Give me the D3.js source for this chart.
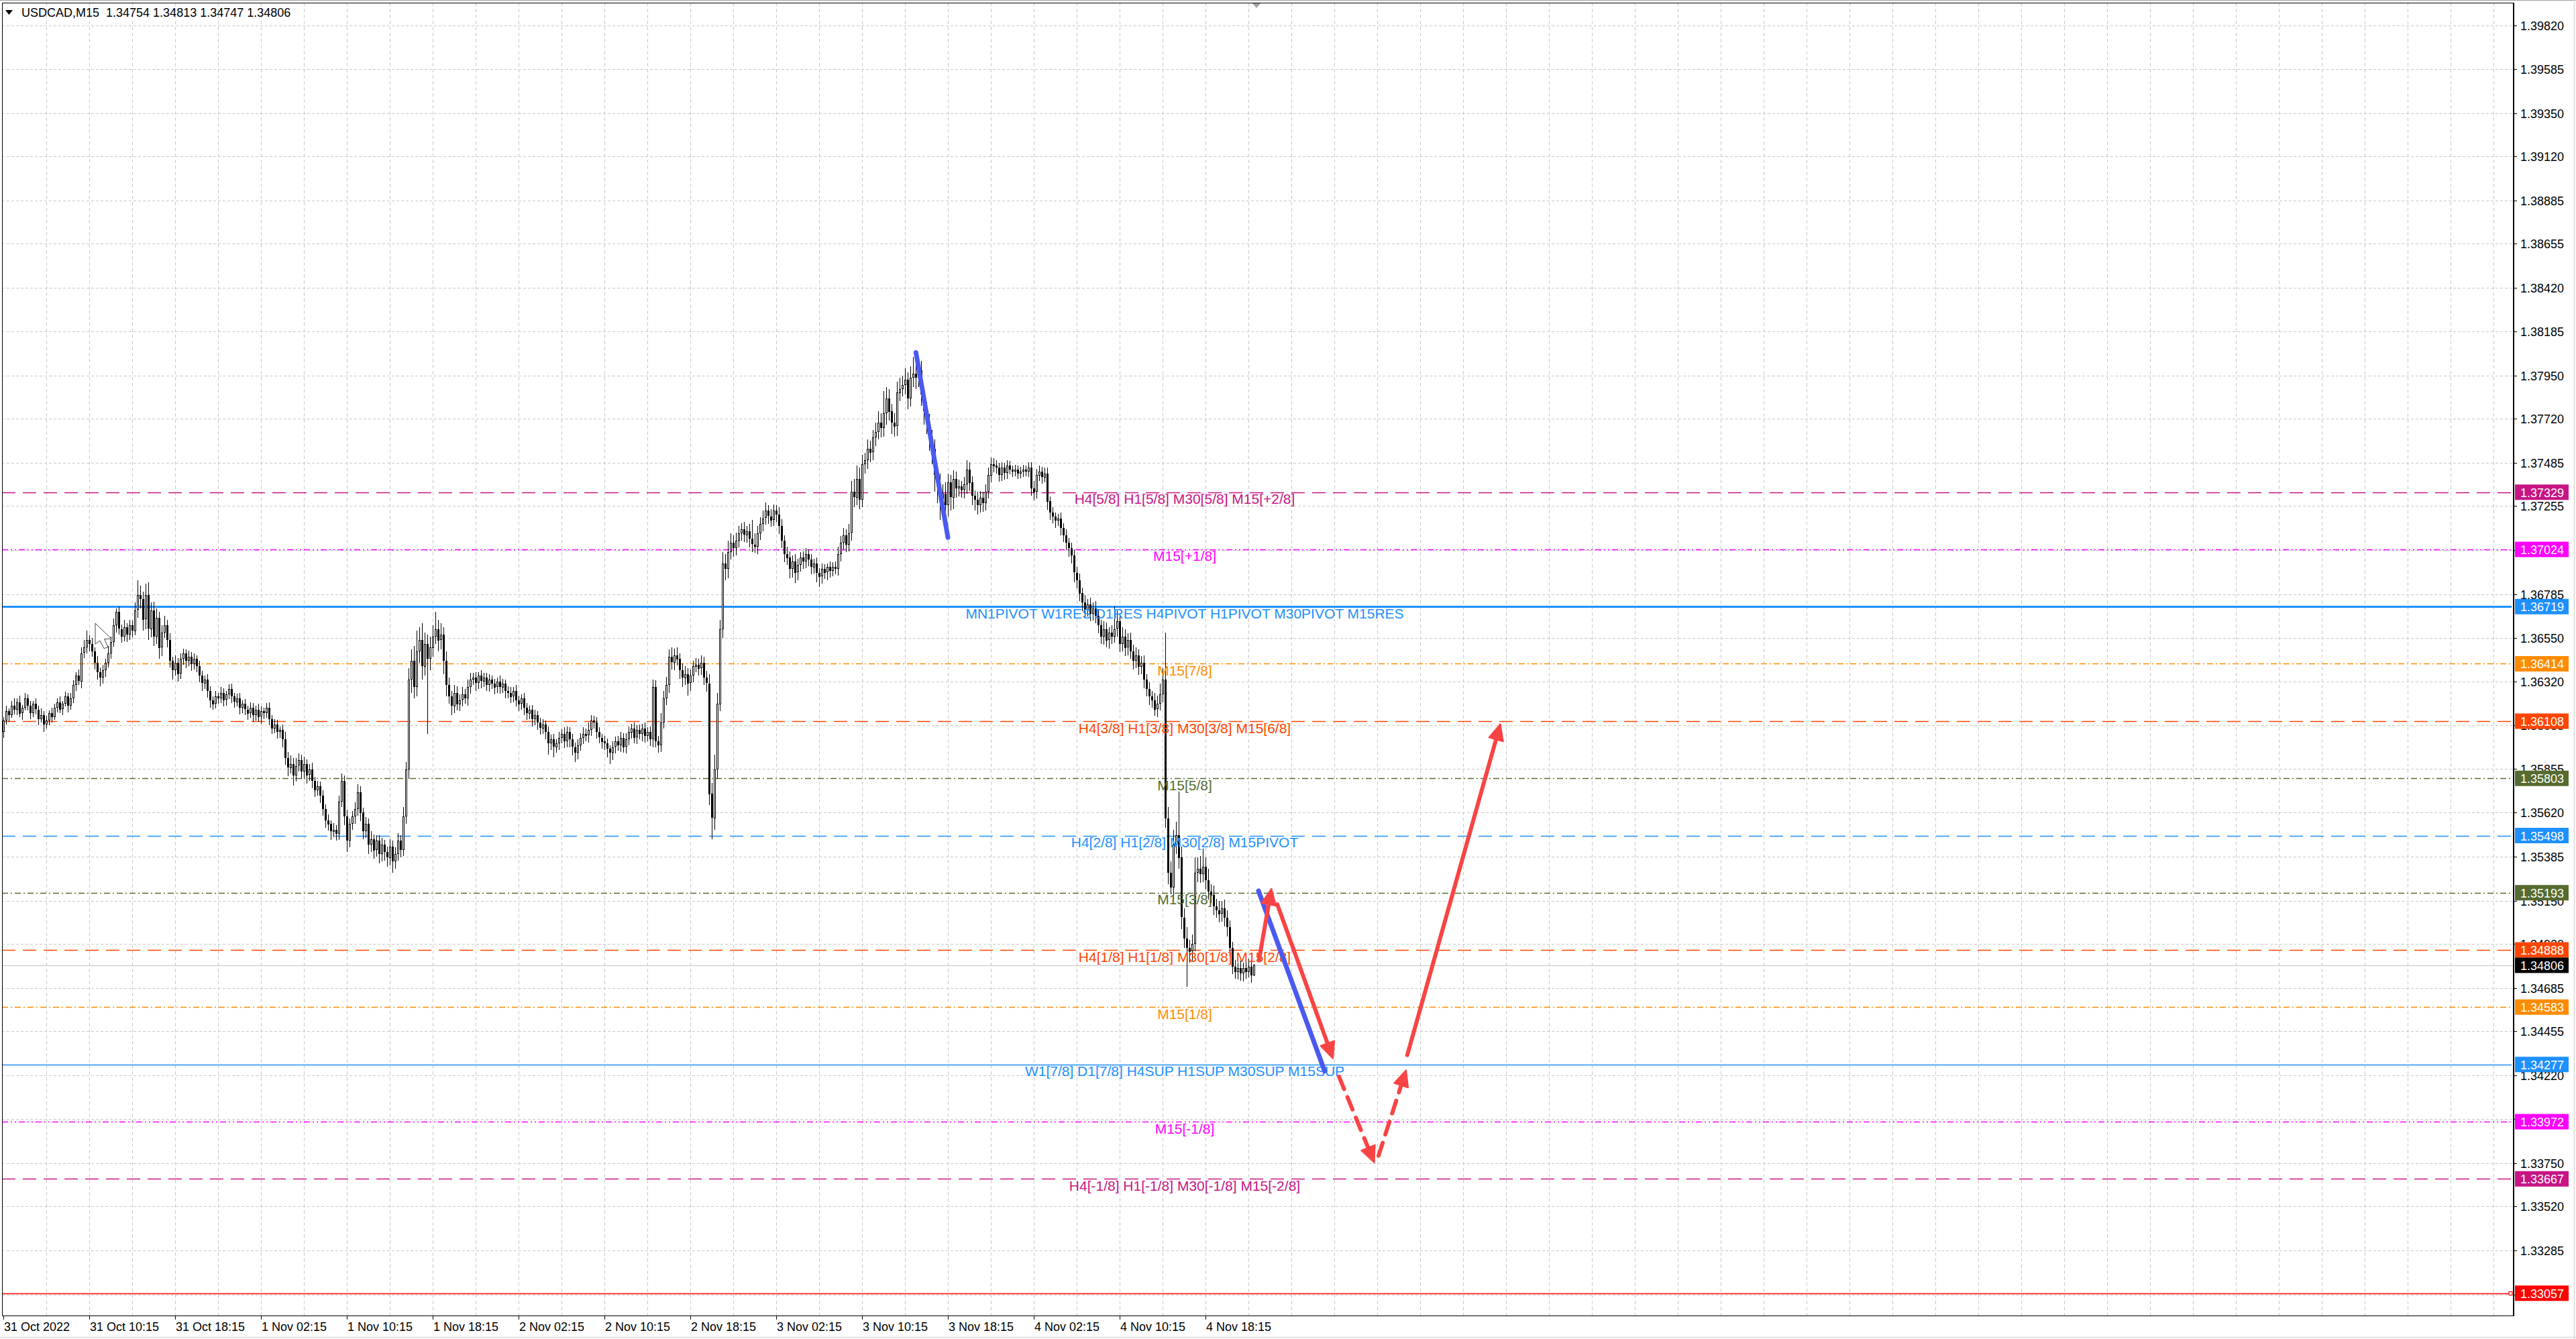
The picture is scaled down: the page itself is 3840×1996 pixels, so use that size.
<!DOCTYPE html>
<html><head><meta charset="utf-8">
<script src="https://cdn.jsdelivr.net/npm/d3@7"></script>
<style>body{margin:0;background:#fff}svg{display:block}</style>
</head><body><svg id="c" width="3840" height="1996"></svg>
<script>
// ---------------- DATA ----------------
const headerText = "USDCAD,M15  1.34754 1.34813 1.34747 1.34806";
// prices in points: price = 1 + v/100000
const firstOpen = 36050;
const closes = [
36110,36160,36140,36190,36170,36210,36150,36180,36230,36190,
36150,36200,36170,36120,36140,36090,36110,36150,36130,36180,
36210,36170,36200,36240,36190,36230,36300,36350,36320,36470,
36500,36540,36520,36480,36420,36370,36340,36380,36420,36470,
36530,36620,36690,36600,36560,36610,36570,36620,36590,36700,
36780,36760,36650,36780,36600,36700,36560,36660,36500,36580,
36620,36540,36430,36380,36420,36360,36440,36470,36430,36450,
36410,36440,36400,36350,36310,36330,36270,36220,36200,36240,
36230,36260,36220,36250,36280,36240,36210,36230,36180,36200,
36170,36150,36180,36140,36170,36130,36160,36150,36180,36120,
36070,36090,36050,36060,36010,35910,35860,35880,35820,35870,
35900,35840,35880,35820,35850,35790,35740,35760,35710,35640,
35580,35560,35520,35530,35510,35680,35790,35600,35470,35560,
35600,35640,35730,35620,35520,35560,35450,35480,35420,35470,
35400,35450,35410,35380,35440,35360,35400,35470,35420,35600,
35850,36330,36430,36290,36480,36540,36400,36520,36440,36500,
36560,36600,36540,36570,36430,36300,36240,36190,36260,36200,
36220,36250,36230,36290,36330,36340,36310,36350,36320,36340,
36300,36330,36310,36290,36320,36290,36310,36270,36260,36240,
36270,36220,36200,36230,36180,36150,36170,36120,36140,36100,
36070,36090,36050,35990,36010,35970,35990,36020,36040,36000,
36050,36010,35970,35940,35980,36020,36040,36030,36060,36110,
36100,36050,36020,36000,35990,35960,35940,35970,36000,35980,
36020,35970,36010,36050,36070,36020,36060,36040,36070,36030,
36050,36010,36290,36000,35980,36100,36230,36300,36450,36420,
36460,36440,36380,36340,36360,36310,36350,36400,36410,36390,
36420,36340,36310,35720,35590,35850,36200,36600,36950,36920,
37010,37060,37030,37070,37110,37130,37100,37120,37080,37050,
37040,37110,37160,37190,37230,37200,37180,37230,37210,37150,
37070,37000,36980,36920,36960,36900,36940,36980,36960,37000,
36970,36930,36950,36900,36880,36920,36900,36930,36910,36930,
36920,37000,37060,37100,37050,37110,37330,37300,37400,37290,
37480,37500,37560,37540,37620,37650,37700,37670,37750,37830,
37760,37700,37680,37860,37880,37900,37930,37830,37940,37960,
37940,37980,37850,37760,37700,37620,37560,37420,37370,37290,
37320,37260,37380,37300,37400,37350,37360,37340,37370,37450,
37380,37310,37290,37260,37300,37270,37330,37420,37480,37470,
37460,37420,37460,37430,37470,37450,37440,37450,37430,37440,
37450,37440,37460,37350,37330,37420,37440,37410,37430,37280,
37220,37200,37180,37190,37140,37100,37060,37030,36990,36900,
36860,36790,36740,36700,36730,36680,36710,36670,36620,36560,
36600,36540,36580,36560,36600,36640,36520,36560,36500,36540,
36480,36430,36460,36400,36420,36330,36280,36240,36220,36170,
36200,36250,36330,35590,35300,35220,35450,35500,35380,35060,
34950,34900,34880,34920,35300,35320,35290,35330,35260,35200,
35180,35120,35100,35080,35110,35060,35010,34900,34800,34770,
34790,34760,34790,34770,34800,34754,34806];
// upper wick length above the body (points)
const upWick = [
20,30,15,25,40,20,35,15,30,20, 25,15,30,20,35,20,25,15,30,20,
20,30,15,25,20,30,25,20,35,30, 40,50,25,30,20,35,25,30,20,40,
30,35,20,30,25,40,20,30,25,40, 80,50,40,60,70,40,45,50,30,40,
50,30,35,20,40,25,30,25,20,35, 25,30,20,30,25,20,30,25,20,30,
20,30,25,20,25,30,20,25,30,20, 25,20,30,25,20,30,25,20,25,30,
20,30,25,20,30,40,35,45,30,40, 35,30,40,25,30,35,20,30,25,30,
25,30,20,35,25,30,40,30,35,30, 30,35,40,30,25,35,30,40,25,30,
30,35,25,30,40,30,35,40,30,50, 40,60,60,80,110,70,90,60,50,60,
60,90,50,60,40,50,40,30,40,35, 30,40,30,40,35,25,30,20,30,25,
25,30,20,25,20,30,25,20,25,30, 20,30,25,20,30,25,20,25,30,20,
25,30,20,30,25,30,20,30,25,35, 30,25,30,25,30,25,35,30,40,30,
25,30,25,20,30,25,20,30,25,30, 30,25,35,30,25,30,25,30,25,30,
25,30,40,35,30,50,40,45,40,50, 35,40,30,35,40,30,35,30,35,30,
40,30,35,50,60,80,60,50,60,50, 60,50,40,45,40,35,40,30,40,100,
60,40,35,40,45,30,40,35,30,40, 35,30,40,35,30,40,35,30,35,30,
25,30,25,30,25,30,25,20,30,25, 30,40,35,40,30,50,60,70,70,60,
50,40,50,45,40,50,60,50,120,60, 50,40,50,60,60,50,60,40,60,90,
125,60,50,40,50,45,40,50,40,60, 50,60,50,40,45,40,35,30,40,50,
40,35,30,40,35,30,40,40,35,30, 30,25,30,25,30,25,20,25,20,25,
25,20,30,30,40,35,30,25,30,30, 25,30,20,25,30,25,30,25,30,35,
30,35,30,40,30,35,30,40,35,30, 40,35,30,40,120,60,40,50,40,35,
40,35,40,30,35,40,30,35,30,40, 45,60,60,250,60,60,80,70,233,60,
50,60,40,50,80,60,70,100,50,60, 40,50,40,50,40,45,40,35,30,35,
30,40,30,35,40,30,7];
// lower wick length below the body (points)
const downWick = [
30,20,35,15,25,30,20,35,15,25, 30,20,25,35,20,40,20,25,30,15,
25,20,30,15,35,20,25,30,20,35, 25,30,40,30,35,40,45,30,35,25,
30,25,40,30,35,25,40,30,35,25, 40,50,60,50,60,45,50,40,60,45,
30,40,35,50,30,40,25,30,40,30, 35,25,30,35,40,30,35,40,30,25,
30,25,35,30,25,35,30,25,35,30, 30,35,25,35,30,25,35,30,25,35,
30,25,35,30,40,35,45,30,55,35, 30,40,35,45,30,40,35,30,40,35,
40,35,45,30,40,35,30,45,60,35, 30,40,35,45,40,35,50,40,45,35,
50,40,45,50,40,60,40,35,40,30, 40,50,70,60,50,60,70,50,400,60,
50,40,60,50,70,60,40,50,40,35, 40,35,30,40,35,30,40,30,35,30,
30,35,30,40,30,35,30,40,30,35, 30,35,40,30,40,35,30,40,35,40,
35,30,40,60,35,55,30,35,30,35, 30,40,45,50,35,30,35,30,35,30,
30,35,30,40,35,45,60,40,35,30, 35,30,35,30,35,30,35,30,40,35,
30,35,40,30,40,35,30,35,40,35, 40,35,45,50,40,65,40,35,30,40,
35,40,45,60,110,60,50,40,50,60, 50,40,45,40,35,40,35,40,45,40,
35,40,35,40,35,40,35,30,40,45, 40,45,40,50,45,55,40,35,40,35,
35,40,35,50,55,40,35,40,35,30, 30,35,40,35,40,35,40,50,40,50,
40,50,45,50,40,45,40,50,45,60, 50,60,55,50,45,40,50,60,45,50,
60,50,60,70,60,70,80,90,100,110, 70,80,60,70,60,50,45,40,45,50,
45,50,60,50,40,45,40,35,40,35, 30,35,30,35,30,25,30,25,30,25,
30,25,30,40,45,35,30,35,30,45, 40,35,40,30,40,35,40,45,40,50,
45,40,45,40,35,40,35,40,45,40, 45,40,45,40,35,40,45,40,45,40,
40,45,40,45,40,45,40,45,40,35, 40,35,40,50,60,36,60,50,60,60,
50,209,60,50,40,50,45,40,50,45, 40,45,40,45,40,45,50,45,40,35,
40,35,40,35,30,40,7];

const priceTicks = [1.39820,1.39585,1.39350,1.39120,1.38885,1.38655,1.38420,1.38185,1.37950,1.37720,
  1.37485,1.37255,1.37020,1.36785,1.36550,1.36320,1.36085,1.35855,1.35620,1.35385,1.35150,1.34920,
  1.34685,1.34455,1.34220,1.33985,1.33750,1.33520,1.33285,1.33050];
const dateLabels = ["31 Oct 2022","31 Oct 10:15","31 Oct 18:15","1 Nov 02:15","1 Nov 10:15","1 Nov 18:15",
  "2 Nov 02:15","2 Nov 10:15","2 Nov 18:15","3 Nov 02:15","3 Nov 10:15","3 Nov 18:15","4 Nov 02:15",
  "4 Nov 10:15","4 Nov 18:15"];
const dateBars = [0,32,64,96,128,160,192,224,256,288,320,352,384,416,448];

const levelPrices = [1.37329,1.37024,1.36719,1.36414,1.36108,1.35803,1.35498,1.35193,1.34888,1.34583,1.34277,1.33972,1.33667,1.33057];
const levelLabels = ["H4[5/8] H1[5/8] M30[5/8] M15[+2/8]","M15[+1/8]",
  "MN1PIVOT W1RES D1RES H4PIVOT H1PIVOT M30PIVOT M15RES","M15[7/8]",
  "H4[3/8] H1[3/8] M30[3/8] M15[6/8]","M15[5/8]","H4[2/8] H1[2/8] M30[2/8] M15PIVOT","M15[3/8]",
  "H4[1/8] H1[1/8] M30[1/8] M15[2/8]","M15[1/8]","W1[7/8] D1[7/8] H4SUP H1SUP M30SUP M15SUP",
  "M15[-1/8]","H4[-1/8] H1[-1/8] M30[-1/8] M15[-2/8]",""];
const currentPrice = 1.34806;
const labelBar = 440.25;

// drawn annotations: [bar, price] start -> end
const blueLinesStart = [[340.1,1.38074],[467.75,1.35203]];
const blueLinesEnd   = [[352.0,1.37088],[492.4,1.34242]];
const redArrowsStart = [[467.9,1.34832],[474.75,1.35131],[523.2,1.34327]];
const redArrowsEnd   = [[472.6,1.35215],[495.5,1.34309],[557.9,1.36093]];
const redDashStart   = [[497.75,1.34212],[512.5,1.33791]];
const redDashEnd     = [[510.9,1.33754],[522.75,1.34247]];
const cursorAt = [34.25,1.36630];

// ---------------- STYLE ----------------
const levelColor = ["#C71585","#FF00FF","#1E90FF","#FF8C00","#FF4500","#556B2F","#1E90FF","#556B2F","#FF4500","#FF8C00","#1E90FF","#FF00FF","#C71585","#FF0000"];
const levelDash = ["20,11","9,4,2,4,2,4","","9,4,2,4","20,11","9,4,2,4","20,11","9,4,2,4","20,11","9,4,2,4","","9,4,2,4,2,4","20,11",""];
const levelWidth = [1.5,1.5,3,1.5,1.5,1.5,1.5,1.5,1.5,1.5,1.5,1.5,1.5,1.5];
const FONT = "'Liberation Sans', Arial, sans-serif";
const plot = {left:3, top:4, right:3747, bottom:1961};

// ---------------- CHART ----------------
const svg = d3.select("#c");
const x = d3.scaleLinear().domain([0,1]).range([5,9]);          // bar index -> px (4px/bar)
const y = d3.scaleLinear().domain([1.329381,1.399399]).range([plot.bottom, plot.top]);
const P = v => 1 + v/1e5;

svg.append("rect").attr("width",3840).attr("height",1996).attr("fill","#fff");
// outer window edges
svg.append("line").attr("x1",0).attr("x2",3840).attr("y1",0.5).attr("y2",0.5).attr("stroke","#A0A0A0");
svg.append("line").attr("x1",3837.5).attr("x2",3837.5).attr("y1",0).attr("y2",1996).attr("stroke","#E0E0E0").attr("stroke-width",2);
svg.append("line").attr("x1",0).attr("x2",3840).attr("y1",1993.5).attr("y2",1993.5).attr("stroke","#E0E0E0").attr("stroke-width",2);

const clip = svg.append("clipPath").attr("id","pc").append("rect")
  .attr("x",plot.left).attr("y",plot.top).attr("width",plot.right-plot.left).attr("height",plot.bottom-plot.top);

// grid
const grid = svg.append("g").attr("shape-rendering","crispEdges").attr("stroke","#C8C8C8").attr("stroke-width",1);
grid.selectAll("line.h").data(priceTicks).join("line")
  .attr("x1",plot.left).attr("x2",plot.right).attr("y1",d=>Math.round(y(d))+0.5).attr("y2",d=>Math.round(y(d))+0.5)
  .attr("stroke-dasharray","4,3");
const vBars = d3.range(16, 936, 16);
grid.selectAll("line.v").data(vBars).join("line")
  .attr("x1",d=>Math.round(x(d))+0.5).attr("x2",d=>Math.round(x(d))+0.5).attr("y1",plot.top).attr("y2",plot.bottom)
  .attr("stroke-dasharray","5,4");

// level lines
const lv = svg.append("g").attr("clip-path","url(#pc)");
lv.selectAll("line").data(levelPrices).join("line")
  .attr("x1",plot.left).attr("x2",plot.right-3)
  .attr("y1",d=>Math.round(y(d))+0.5).attr("y2",d=>Math.round(y(d))+0.5)
  .attr("stroke",(d,i)=>levelColor[i]).attr("stroke-width",(d,i)=>levelWidth[i])
  .attr("stroke-dasharray",(d,i)=>levelDash[i]||null);
lv.append("line").attr("x1",plot.left).attr("x2",plot.right)
  .attr("y1",Math.round(y(currentPrice))+0.5).attr("y2",Math.round(y(currentPrice))+0.5)
  .attr("stroke","#C0C0C0").attr("stroke-width",1.2);
// small marker at the end of the red line
svg.append("rect").attr("x",plot.right-7).attr("y",Math.round(y(levelPrices[13]))-2.5).attr("width",5).attr("height",5)
  .attr("fill","#fff").attr("stroke","#FF0000").attr("stroke-width",1.2);

// candles
const bars = closes.map((c,i)=>{
  const o = i ? closes[i-1] : firstOpen;
  return {i, o:P(o), c:P(c), h:P(Math.max(o,c)+upWick[i]), l:P(Math.min(o,c)-downWick[i])};
});
const cg = svg.append("g").attr("shape-rendering","crispEdges");
cg.selectAll("line").data(bars).join("line")
  .attr("x1",d=>Math.round(x(d.i))+0.5).attr("x2",d=>Math.round(x(d.i))+0.5)
  .attr("y1",d=>y(d.h)).attr("y2",d=>y(d.l)).attr("stroke","#000").attr("stroke-width",1);
cg.selectAll("rect").data(bars).join("rect")
  .attr("x",d=> d.c>=d.o ? Math.round(x(d.i))-0.5 : Math.round(x(d.i))-1)
  .attr("y",d=> Math.round(Math.min(y(d.o),y(d.c))) + (d.c>=d.o?0.5:0))
  .attr("width",d=> d.c>=d.o ? 2 : 3)
  .attr("height",d=> Math.max(1, Math.round(Math.abs(y(d.o)-y(d.c))) - (d.c>=d.o?1:0)))
  .attr("fill",d=> d.c>=d.o ? "#fff" : "#000")
  .attr("stroke",d=> d.c>=d.o ? "#000" : "none").attr("stroke-width",1);

// mouse cursor captured in the screenshot
const cx0 = x(cursorAt[0]), cy0 = y(cursorAt[1]);
const cursorShape = [[0,0],[24,23],[13.5,23.5],[19,35.5],[13,37.5],[7,26],[0,31]];
svg.append("polygon").attr("points",cursorShape.map(p=>[cx0+p[0],cy0+p[1]].join(",")).join(" "))
  .attr("fill","#fff").attr("stroke","#444").attr("stroke-width",1);

// level labels
svg.append("g").selectAll("text").data(levelPrices).join("text")
  .attr("x",x(labelBar)).attr("y",d=>y(d)+17.5).attr("text-anchor","middle")
  .attr("font-family",FONT).attr("font-size",21).attr("fill",(d,i)=>levelColor[i])
  .text((d,i)=>levelLabels[i]);

// annotation arrows
const ann = svg.append("g").attr("clip-path","url(#pc)");
function seg(s,e,color,w,dash,head){
  const x1=x(s[0]), y1=y(s[1]), x2=x(e[0]), y2=y(e[1]);
  const dx=x2-x1, dy=y2-y1, L=Math.hypot(dx,dy), ux=dx/L, uy=dy/L;
  const hl = head ? 24 : 0, hw = 11;
  ann.append("line").attr("x1",x1).attr("y1",y1).attr("x2",x2-ux*hl*0.8).attr("y2",y2-uy*hl*0.8)
    .attr("stroke",color).attr("stroke-width",w).attr("stroke-linecap","round")
    .attr("stroke-dasharray",dash||null);
  if(head){
    const bx=x2-ux*hl, by=y2-uy*hl;
    ann.append("polygon").attr("points",[[x2,y2],[bx-uy*hw,by+ux*hw],[bx+uy*hw,by-ux*hw]].map(p=>p.join(",")).join(" "))
      .attr("fill",color).attr("stroke",color).attr("stroke-width",2).attr("stroke-linejoin","round");
  }
}
blueLinesStart.forEach((s,i)=>seg(s,blueLinesEnd[i],"#4A5AF0",7,null,false));
redArrowsStart.forEach((s,i)=>seg(s,redArrowsEnd[i],"#F84444",6,null,true));
redDashStart.forEach((s,i)=>seg(s,redDashEnd[i],"#F84444",6,"20,13",true));

// frame
svg.append("rect").attr("x",plot.left+0.5).attr("y",plot.top+0.5)
  .attr("width",plot.right-plot.left-0.5).attr("height",plot.bottom-plot.top)
  .attr("fill","none").attr("stroke","#000").attr("stroke-width",1.5).attr("shape-rendering","crispEdges");

// price axis
const ax = svg.append("g");
ax.selectAll("line").data(priceTicks).join("line")
  .attr("x1",plot.right).attr("x2",plot.right+5).attr("y1",d=>Math.round(y(d))+0.5).attr("y2",d=>Math.round(y(d))+0.5)
  .attr("stroke","#000").attr("shape-rendering","crispEdges");
ax.selectAll("text").data(priceTicks).join("text")
  .attr("x",3757).attr("y",d=>y(d)+7).attr("font-family",FONT).attr("font-size",18).attr("fill","#000")
  .text(d=>d.toFixed(5));

// price boxes
const boxPrices = levelPrices.concat([currentPrice]);
const boxColors = levelColor.concat(["#000000"]);
const bx = svg.append("g");
bx.selectAll("rect").data(boxPrices).join("rect")
  .attr("x",3749).attr("y",d=>y(d)-11.5).attr("width",80).attr("height",23)
  .attr("fill",(d,i)=>boxColors[i]);
bx.selectAll("text").data(boxPrices).join("text")
  .attr("x",3757).attr("y",d=>y(d)+7).attr("font-family",FONT).attr("font-size",18).attr("fill","#fff")
  .text(d=>d.toFixed(5));

// time axis
const tx = svg.append("g");
tx.selectAll("line").data(dateBars).join("line")
  .attr("x1",d=>Math.round(x(d))+0.5).attr("x2",d=>Math.round(x(d))+0.5)
  .attr("y1",plot.bottom).attr("y2",plot.bottom+6).attr("stroke","#000").attr("shape-rendering","crispEdges");
tx.selectAll("text").data(dateBars).join("text")
  .attr("x",d=>x(d)+1).attr("y",1984).attr("font-family",FONT).attr("font-size",18).attr("fill","#000")
  .text((d,i)=>dateLabels[i]);

// header
svg.append("polygon").attr("points","8,15 19,15 13.5,22").attr("fill","#000");
svg.append("text").attr("x",32).attr("y",25).attr("font-family",FONT).attr("font-size",18).attr("fill","#000")
  .attr("xml:space","preserve").style("white-space","pre").text(headerText);
// chart-shift marker
svg.append("polygon").attr("points",`${x(467)-6},${plot.top+1} ${x(467)+6},${plot.top+1} ${x(467)},${plot.top+8}`).attr("fill","#A0A0A0");
</script></body></html>
